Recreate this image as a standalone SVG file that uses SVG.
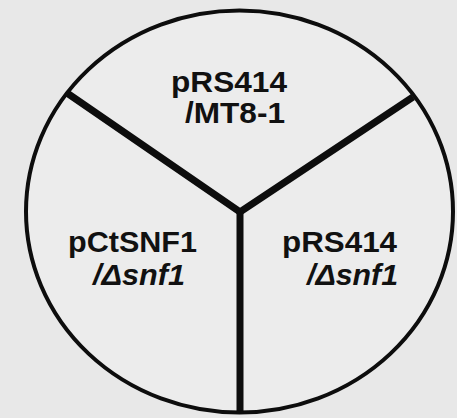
<svg xmlns="http://www.w3.org/2000/svg" width="457" height="418" viewBox="0 0 457 418">
<style>
.lbl{font-family:"Liberation Sans",Arial,Helvetica,sans-serif;font-weight:bold;font-size:29px;fill:#111;}
.it{font-style:italic;}
.div{stroke:#0d0d0d;stroke-width:7;fill:none;stroke-linecap:butt;}
</style>
<rect width="457" height="418" fill="#e8e8e8"/>
<g id="plate">
<ellipse cx="239.5" cy="211.5" rx="213.5" ry="201" fill="#ececec" stroke="#0d0d0d" stroke-width="4"/>
</g>
<g id="connectors">
<polyline class="div" points="67,93 240,212 413,97"/>
<line class="div" x1="240" y1="210" x2="240" y2="414" stroke-width="6"/>
</g>
<g id="sector-top">
<text class="lbl" x="171" y="92" textLength="116" lengthAdjust="spacingAndGlyphs">pRS414</text>
<text class="lbl" x="185" y="123" textLength="100" lengthAdjust="spacingAndGlyphs">/MT8-1</text>
</g>
<g id="sector-left">
<text class="lbl" x="68" y="252" textLength="129" lengthAdjust="spacingAndGlyphs">pCtSNF1</text>
<text class="lbl it" x="93" y="285" textLength="92" lengthAdjust="spacingAndGlyphs">/Δsnf1</text>
</g>
<g id="sector-right">
<text class="lbl" x="282" y="252" textLength="115" lengthAdjust="spacingAndGlyphs">pRS414</text>
<text class="lbl it" x="307" y="285" textLength="91" lengthAdjust="spacingAndGlyphs">/Δsnf1</text>
</g>
</svg>
